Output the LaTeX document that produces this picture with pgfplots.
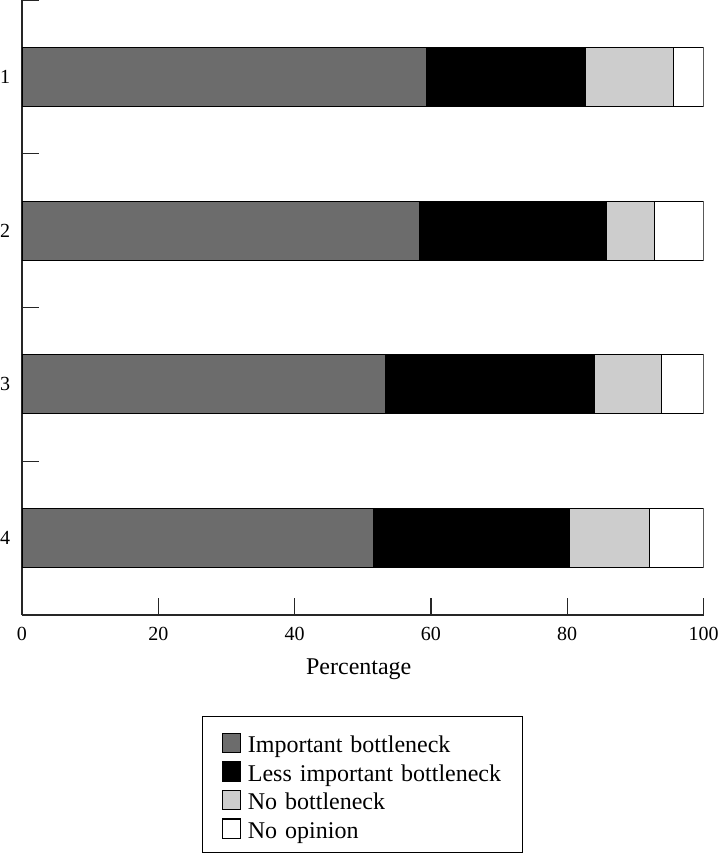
\documentclass[border=0pt]{standalone}
\usepackage{fontspec}
\setmainfont{Liberation Serif}
\usepackage{pgfplots}
\pgfplotsset{compat=1.18}
\definecolor{impgray}{RGB}{108,108,108}
\definecolor{nogray}{RGB}{205,205,205}
\begin{document}
\begin{tikzpicture}
\begin{axis}[
  scale only axis, width=340.75pt, height=307.5pt,
  xbar stacked, bar width=29.5pt,
  xmin=0, xmax=100, ymin=0.5, ymax=4.5,
  axis x line*=bottom, axis y line*=left,
  axis line style={-, line width=0.7pt, black!85},
  xtick={0,20,...,100},
  ytick={1,2,3,4}, yticklabels={4,3,2,1},
  minor ytick={1.5,2.5,3.5,4.5},
  major tick length=8.5pt, minor tick length=8.5pt,
  tick align=inside,
  major y tick style={draw=none},
  minor y tick style={draw=black!85, line width=0.6pt},
  major x tick style={draw=black!85, line width=0.6pt},
  /pgf/number format/assume math mode=true,
  tick label style={font=\fontsize{10}{12}\selectfont},
  xticklabel style={yshift=-2.6pt},
  yticklabel style={xshift=-2.4pt},
  xlabel={Percentage},
  xlabel style={font=\fontsize{12}{14}\selectfont, at={(axis description cs:0.5,0)}, anchor=base, yshift=-29.5pt, xshift=-2pt},
  legend style={at={(0.5,0)}, anchor=north, yshift=-50.5pt, draw=black, line width=0.6pt,
    inner xsep=9.5pt, inner ysep=5.5pt, row sep=0pt, column sep=3.5pt,
    font=\fontsize{12}{14}\selectfont,
    cells={anchor=base west},
    nodes={inner sep=0pt, text height=12.5pt, text depth=1.75pt, text width=128pt}},
  legend image code/.code={\draw[#1, line width=0.6pt] (0pt,0pt) rectangle (9pt,9.6pt);},
]
\addplot[fill=impgray, draw=black, line width=0.6pt] coordinates {(59.4,4) (58.3,3) (53.3,2) (51.6,1)};
\addlegendentry{Important bottleneck}
\addplot[fill=black, draw=black, line width=0.6pt] coordinates {(23.3,4) (27.5,3) (30.7,2) (28.7,1)};
\addlegendentry{Less important bottleneck}
\addplot[fill=nogray, draw=black, line width=0.6pt] coordinates {(12.9,4) (7.0,3) (9.8,2) (11.8,1)};
\addlegendentry{No bottleneck}
\addplot[fill=white, draw=black, line width=0.6pt] coordinates {(4.4,4) (7.2,3) (6.2,2) (7.9,1)};
\addlegendentry{No opinion}
\end{axis}
\pgfresetboundingbox
\path[use as bounding box] (-11pt,-119pt) rectangle (348.5pt,307.5pt);
\end{tikzpicture}
\end{document}
